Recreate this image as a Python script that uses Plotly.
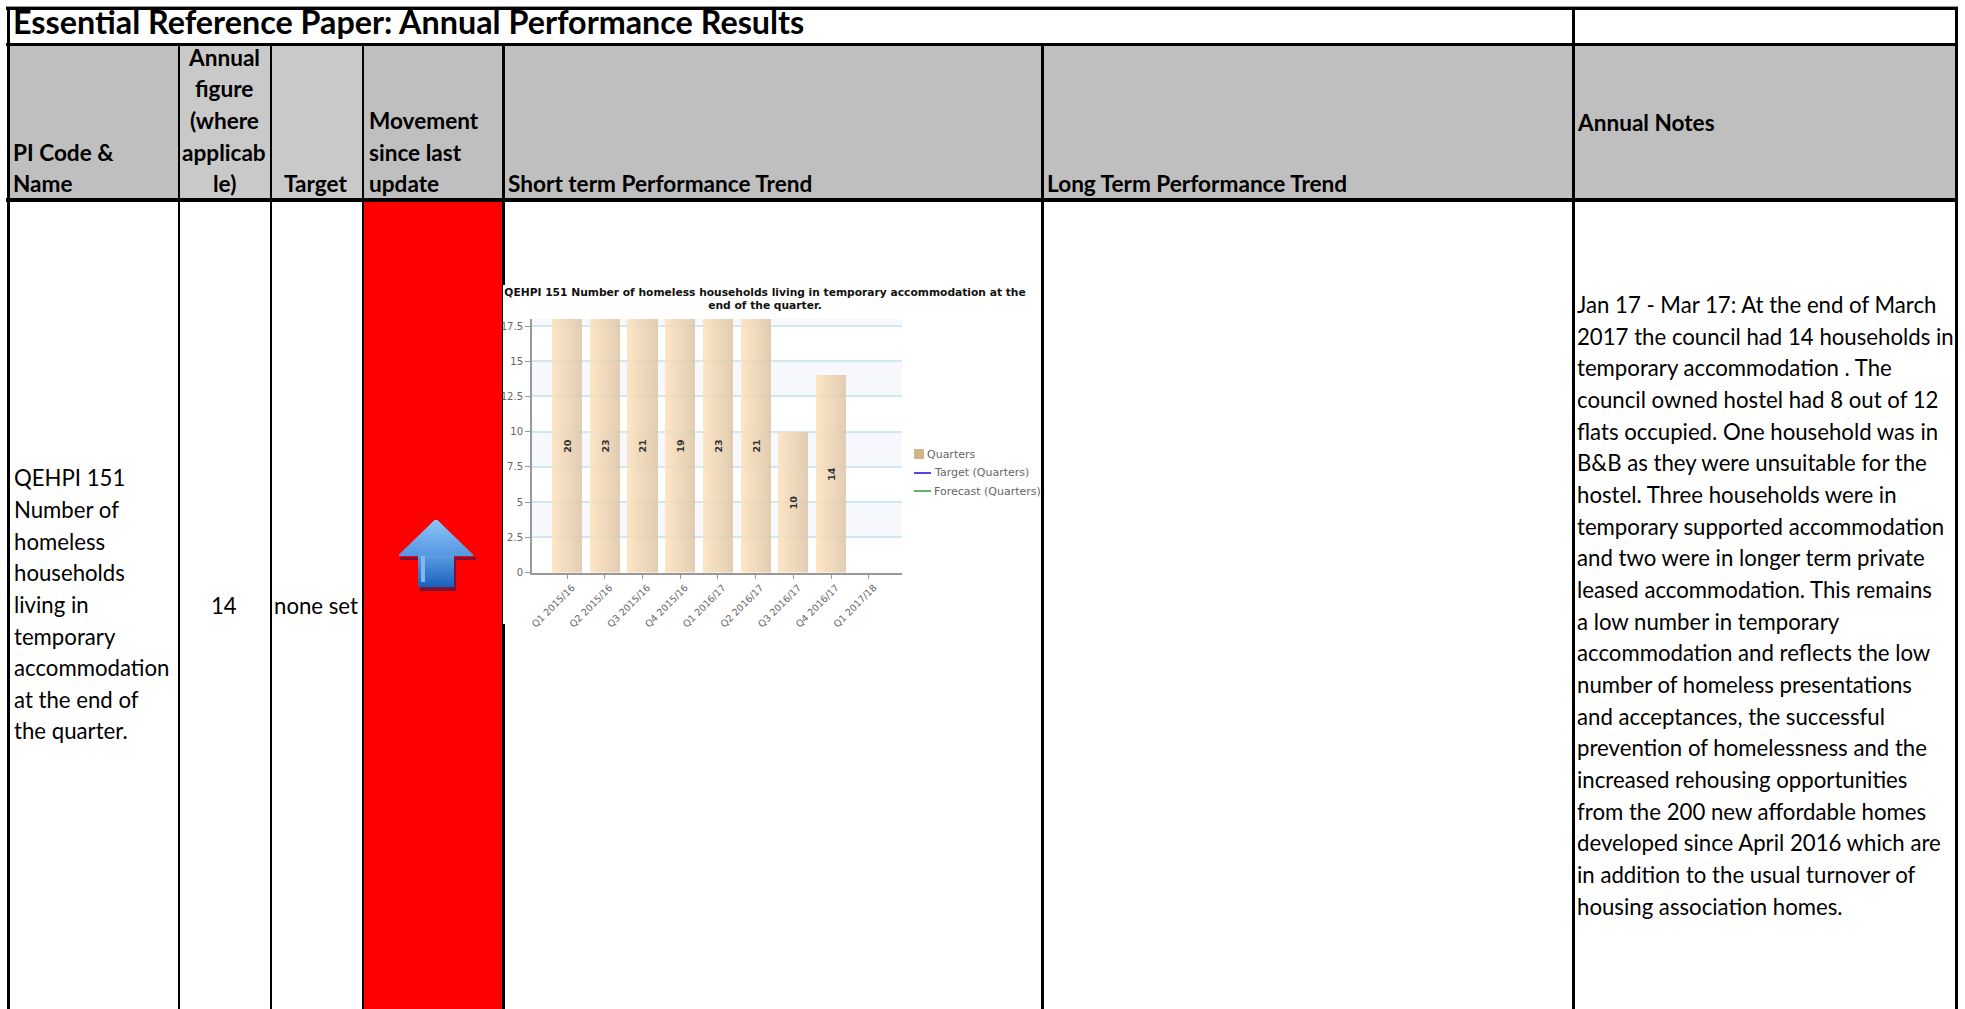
import plotly.graph_objects as go

W, H = 1965, 1009
quarters = ["Q1 2015/16", "Q2 2015/16", "Q3 2015/16", "Q4 2015/16", "Q1 2016/17",
            "Q2 2016/17", "Q3 2016/17", "Q4 2016/17", "Q1 2017/18"]
values = [20, 23, 21, 19, 23, 21, 10, 14, None]
y_ticks = [0, 2.5, 5, 7.5, 10, 12.5, 15, 17.5]
y_tick_labels = ["0", "2.5", "5", "7.5", "10", "12.5", "15", "17.5"]
Y_MAX = 18
chart_title = "QEHPI 151 Number of homeless households living in temporary accommodation at the<br>end of the quarter."
legend_labels = ["Quarters", "Target (Quarters)", "Forecast (Quarters)"]

page_title = "Essential Reference Paper: Annual Performance Results"
name_lines = ["QEHPI 151", "Number of", "homeless", "households", "living in", "temporary",
              "accommodation", "at the end of", "the quarter."]
note_lines = ["Jan 17 - Mar 17: At the end of March", "2017 the council had 14 households in",
              "temporary accommodation . The", "council owned hostel had 8 out of 12",
              "flats occupied. One household was in", "B&B as they were unsuitable for the",
              "hostel. Three households were in", "temporary supported accommodation",
              "and two were in longer term private", "leased accommodation. This remains",
              "a low number in temporary", "accommodation and reflects the low",
              "number of homeless presentations", "and acceptances, the successful",
              "prevention of homelessness and the", "increased rehousing opportunities",
              "from the 200 new affordable homes", "developed since April 2016 which are",
              "in addition to the usual turnover of", "housing association homes."]

FONT = "Lato"
BODY = 22.2
HEAD = 22.6
def X(p): return p / W
def Y(p): return 1 - p / H

shapes, annos = [], []
def rect(x0, y0, x1, y1, color, layer="below"):
    shapes.append(dict(type="rect", xref="paper", yref="paper", x0=X(x0), x1=X(x1), y0=Y(y0), y1=Y(y1),
                       fillcolor=color, line=dict(width=0), layer=layer))
def text(x, y, s, size=BODY, bold=False, anchor="left", color="#000000", font=FONT):
    annos.append(dict(xref="paper", yref="paper", x=X(x), y=Y(y), text=f"<b>{s}</b>" if bold else s,
                      showarrow=False, xanchor=anchor, yanchor="middle", borderpad=0,
                      font=dict(family=font, size=size, color=color)))

# header fills and red cell
rect(9, 46, 178, 199, "#BFBFBF")
rect(180, 46, 270, 199, "#C9C9C9")
rect(272, 46, 362, 199, "#C9C9C9")
rect(364, 46, 503, 199, "#BFBFBF")
rect(505, 46, 1956, 199, "#BFBFBF")
rect(364, 202, 503, H, "#FF0000")
# table lines
rect(6, 6, 1958, 7, "#999999")
rect(6, 7, 1958, 10, "#000000", "above")
rect(6, 43, 1958, 46, "#000000", "above")
rect(6, 198, 1958, 202, "#000000", "above")
rect(7, 7, 10, H, "#000000", "above")
for x0, x1 in [(178, 180), (270, 272), (362, 364), (1041, 1044), (1572, 1575), (1955, 1958)]:
    rect(x0, 7 if x0 in (1572, 1955) else 44, x1, H, "#000000", "above")
# red-cell right edge: thinner where the chart picture overlaps it, and below the plot labels
rect(502, 44, 505, 285, "#000000", "above")
rect(502, 285, 503, 624, "#000000", "above")
rect(502, 624, 505, H, "#000000", "above")

# arrow
rect(400, 557, 476, 560, "#7B1238", "above")
rect(420, 558, 456, 591, "#7B1238", "above")
def lerp(a, b, t):
    return "#%02X%02X%02X" % tuple(round(a[i] + (b[i] - a[i]) * t) for i in range(3))
for yy in range(520, 586):
    if yy < 555:
        half = 2 + (yy - 520) * 36 / 35
        c = lerp((140, 196, 244), (84, 150, 226), (yy - 520) / 35)
    else:
        half = 18
        c = lerp((92, 156, 224), (24, 98, 190), (yy - 555) / 31)
    rect(436 - half, yy, 436 + half, yy + 2, c, "above")
rect(421, 556, 425, 582, "#7FB6EC", "above")

# page text
text(12, 21.5, page_title, 32.3, True)
for s, y in zip(["Annual", "figure", "(where", "applicab", "le)"], [58, 89, 120.5, 152, 183]):
    text(224, y, s, HEAD, True, "center")
text(316, 183, "Target", HEAD, True, "center")
for s, y in zip(["Movement", "since last", "update"], [120.5, 152, 183]):
    text(368, y, s, HEAD, True)
for s, y in zip(["PI Code &", "Name"], [152, 183]):
    text(12, y, s, HEAD, True)
text(507, 183, "Short term Performance Trend", HEAD, True)
text(1046, 183, "Long Term Performance Trend", HEAD, True)
text(1576, 122.5, "Annual Notes", HEAD, True)
for i, s in enumerate(name_lines):
    text(13, 478 + i * 31.6, s)
text(224, 605, "14", BODY, anchor="center")
text(273, 605, "none set", BODY)
for i, s in enumerate(note_lines):
    text(1575.5, 304.5 + i * 31.66, s)

# alternating plot bands behind the bars
edges = y_ticks + [Y_MAX]
for i in range(1, len(edges) - 1, 2):
    shapes.append(dict(type="rect", xref="x domain", yref="y", x0=0, x1=1, y0=edges[i], y1=edges[i + 1],
                       fillcolor="#F7F8FE", line=dict(width=0), layer="below"))

fig = go.Figure()
BAR_W, STRIPS = 0.8, 10
for k in range(STRIPS):
    t = k / (STRIPS - 1)
    col = lerp((252, 224, 186), (222, 198, 166), t)
    fig.add_bar(x=quarters, y=values, width=BAR_W / STRIPS, offset=-BAR_W / 2 + k * BAR_W / STRIPS,
                marker=dict(color=col, opacity=0.85, line=dict(width=0)), showlegend=False, hoverinfo="skip")
visible = [None if v is None else min(v, Y_MAX) for v in values]
fig.add_bar(x=quarters, y=visible, width=BAR_W, text=[("" if v is None else f"<b>{v}</b>") for v in values],
            textposition="inside", insidetextanchor="middle", textangle=-90, constraintext="none",
            textfont=dict(family="DejaVu Sans", size=9.5, color="#333333"),
            marker=dict(color="rgba(0,0,0,0)", line=dict(width=0)), showlegend=False, hoverinfo="skip")

# chart key
rect(914, 449, 924, 459, "#D2B48C")
rect(914, 472, 931, 474, "#4A4AE8")
rect(914, 490, 931, 492, "#5DB56B")
text(926, 454, legend_labels[0], 11, color="#666666", font="DejaVu Sans")
text(933, 473, legend_labels[1], 11, color="#666666", font="DejaVu Sans")
text(933, 491, legend_labels[2], 11, color="#666666", font="DejaVu Sans")

fig.update_layout(
    width=W, height=H, autosize=False, margin=dict(l=0, r=0, t=0, b=0),
    paper_bgcolor="#FFFFFF", plot_bgcolor="#FFFFFF", barmode="overlay", bargap=0,
    showlegend=False, shapes=shapes, annotations=annos,
    title=dict(text=f"<b>{chart_title}</b>", x=765 / W, xanchor="center", y=Y(295.5), yanchor="middle",
               font=dict(family="DejaVu Sans", size=10.7, color="#111111")),
    xaxis=dict(domain=[X(532), X(902)], type="category", categoryorder="array", categoryarray=quarters,
               automargin=False,
               range=[-0.93, 8.88], tickangle=-45, ticks="outside", ticklen=4, tickcolor="#999999",
               ticklabelshift=5,
               showline=True, linecolor="#999999", linewidth=2, showgrid=False,
               tickfont=dict(family="DejaVu Sans", size=9.5, color="#666666")),
    yaxis=dict(domain=[Y(572.5), Y(319)], range=[0, Y_MAX], tickmode="array", tickvals=y_ticks,
               automargin=False,
               ticktext=y_tick_labels, ticks="outside", ticklen=5, tickcolor="#999999",
               showline=True, linecolor="#999999", linewidth=2, showgrid=True, gridcolor="#CFE9EE",
               gridwidth=1.5, zeroline=False,
               tickfont=dict(family="DejaVu Sans", size=10, color="#666666")),
)
fig.write_html("out.html", config=dict(displayModeBar=False), post_script=
    "document.body.style.margin='0';document.documentElement.style.overflow='hidden';")
